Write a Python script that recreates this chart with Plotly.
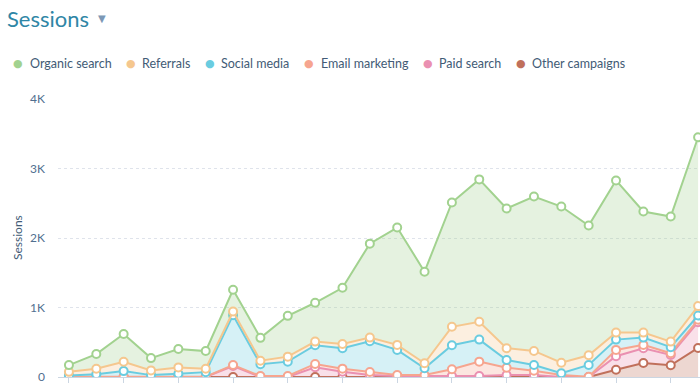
import plotly.graph_objects as go

weeks = ["W1", "W2", "W3", "W4", "W5", "W6", "W7", "W8", "W9", "W10", "W11", "W12",
         "W13", "W14", "W15", "W16", "W17", "W18", "W19", "W20", "W21", "W22", "W23", "W24"]

organic = [97, 212, 399, 177, 264, 255, 313, 328, 587, 559, 808, 1352,
           1688, 1317, 1789, 2049, 2010, 2222, 2247, 1866, 2189, 1742, 1800, 2429]
referrals = [54, 77, 134, 68, 92, 48, 52, 52, 72, 52, 62, 52,
             72, 72, 265, 256, 169, 202, 153, 140, 101, 72, 80, 135]
social = [15, 36, 80, 22, 41, 65, 717, 169, 207, 269, 294, 443,
          361, 97, 346, 317, 111, 82, 24, 169, 148, 105, 87, 62]
email = [5, 5, 5, 5, 5, 5, 14, 14, 14, 48, 44, 43,
         15, 15, 97, 207, 105, 62, 29, 4, 91, 48, 25, 34]
paid = [0, 0, 0, 0, 0, 0, 159, 0, 0, 140, 76, 29,
        14, 14, 14, 14, 29, 29, 0, 0, 194, 212, 148, 371]
other = [0, 0, 0, 0, 0, 0, 0, 0, 0, 0, 0, 0,
         0, 0, 0, 0, 0, 0, 0, 0, 105, 202, 169, 418]

series_names = ["Organic search", "Referrals", "Social media", "Email marketing", "Paid search", "Other campaigns"]
series_values = [organic, referrals, social, email, paid, other]
colors = ["#a2d28f", "#f5c78e", "#6acce0", "#f6a58f", "#ea90b1", "#c0705b"]

y_ticks = [0, 1000, 2000, 3000, 4000]
y_tick_labels = ["0", "1K", "2K", "3K", "4K"]

def rgba(h, a):
    h = h.lstrip("#")
    r, g, b = int(h[0:2], 16), int(h[2:4], 16), int(h[4:6], 16)
    return f"rgba({r},{g},{b},{a})"

fig = go.Figure()
# stack from bottom: last series first
for name, vals, col in reversed(list(zip(series_names, series_values, colors))):
    fig.add_trace(go.Scatter(
        x=weeks, y=vals, name=name, stackgroup="one", mode="lines+markers",
        line=dict(color=col, width=2),
        fillcolor=rgba(col, 0.28),
        marker=dict(size=8, color="white", line=dict(color=col, width=2)),
        showlegend=False,
    ))

W, H = 700, 386
L, R, T, B = 58, 0, 99, 9
pw, ph = W - L - R, H - T - B

def px(x):
    return (x - L) / pw

def py(y):
    return (H - B - y) / ph

ann = []
ann.append(dict(text="Sessions", x=px(5), y=py(18), xref="paper", yref="paper",
                xanchor="left", yanchor="middle", showarrow=False,
                font=dict(family="Lato", size=22, color="#2f86a6")))
ann.append(dict(text="▼", x=px(102), y=py(18), xref="paper", yref="paper",
                xanchor="center", yanchor="middle", showarrow=False,
                font=dict(family="DejaVu Sans", size=10, color="#7c98b6")))

dot_x = [18, 131, 210, 309, 428, 521]
text_x = [28, 140, 219, 319, 437, 530]
for name, col, dx, tx in zip(series_names, colors, dot_x, text_x):
    ann.append(dict(text="●", x=px(dx), y=py(64), xref="paper", yref="paper",
                    xanchor="center", yanchor="middle", showarrow=False,
                    font=dict(family="DejaVu Sans", size=11, color=col)))
    ann.append(dict(text=name, x=px(tx), y=py(64), xref="paper", yref="paper",
                    xanchor="left", yanchor="middle", showarrow=False,
                    font=dict(family="Lato", size=12.5, color="#425b76")))

ann.append(dict(text="Sessions", x=px(17), y=0.5, xref="paper", yref="paper",
                xanchor="center", yanchor="middle", showarrow=False, textangle=-90,
                font=dict(family="Lato", size=12, color="#425b76")))

fig.update_layout(
    width=W, height=H,
    margin=dict(l=L, r=R, t=T, b=B),
    paper_bgcolor="white", plot_bgcolor="white",
    showlegend=False,
    annotations=ann,
    xaxis=dict(type="category", range=[-0.4, 23.07], showgrid=False,
               showline=True, linecolor="#cbd6e2", linewidth=1,
               tickmode="array", tickvals=weeks[::2], ticks="outside",
               ticklen=5, tickcolor="#cbd6e2", showticklabels=False, zeroline=False),
    yaxis=dict(range=[0, 4000], tickvals=y_ticks, ticktext=y_tick_labels,
               showgrid=True, gridcolor="#dfe3eb", griddash="3px,3px", gridwidth=1,
               zeroline=False, showline=False, ticklabelstandoff=12,
               tickfont=dict(family="Lato", size=12, color="#516f90")),
)

fig.write_html("out.html", config={"displayModeBar": False},
               post_script="document.body.style.margin='0';document.body.style.overflow='hidden';")
